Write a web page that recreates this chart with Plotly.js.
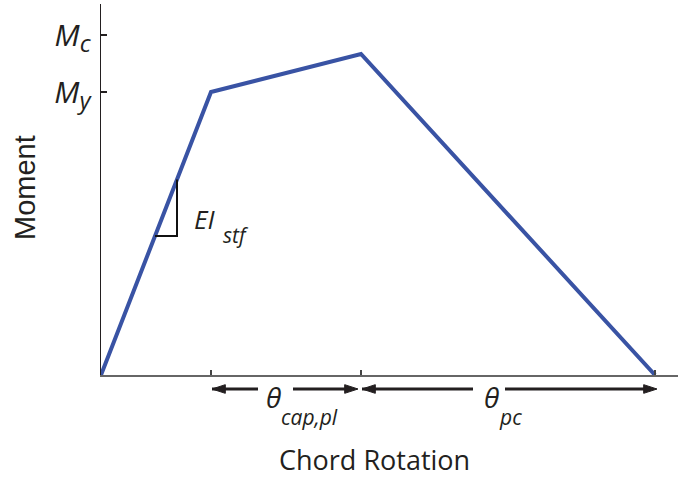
<!DOCTYPE html>
<html>
<head>
<meta charset="utf-8">
<script src="https://cdn.plot.ly/plotly-3.0.1.min.js"></script>
<style>html,body{margin:0;padding:0;background:#fff;}#chart{width:678px;height:477px;}</style>
</head>
<body>
<div id="chart"></div>
<script>
// Backbone curve (chord rotation vs moment)
const rotation = [0, 1.10, 2.60, 5.54];
const moment = [0, 2.83, 3.21, 0];
// Y tick marks and labels
const yTickVals = [2.83, 3.40];
const yTickText = ['<i>M<sub><span style="font-size:24px">y</span></sub></i>',
                   '<i>M<sub><span style="font-size:24px">c</span></sub></i>'];
// Stiffness triangle points along first segment
const triX = [0.54, 0.76];
// Dimension arrows below axis: [tail, tip] pairs in rotation units
const arrowPairs = [[1.57, 1.11], [1.92, 2.57], [3.72, 2.61], [4.04, 5.56]];

const FONT = 'Open Sans, Noto Sans, sans-serif';
const INK = '#231f20';
const slope = moment[1] / rotation[1];
const triYLow = triX[0] * slope;
const triYHigh = triX[1] * slope;

// plot area spans pixel rows 4..430 (height 426); main axis bottom at row 375
const PH = 426, PB = 430;
const py = p => (PB - p) / PH;
const px = p => (p - 101) / 577;
const mainBottom = py(375);

function label(x, y, text, size, xref, yref, extra) {
  return Object.assign({x: x, y: y, xref: xref, yref: yref, text: text, showarrow: false,
    font: {family: FONT, size: size, color: INK}, xanchor: 'center', yanchor: 'middle'}, extra || {});
}

const data = [{
  x: rotation, y: moment, type: 'scatter', mode: 'lines',
  line: {color: '#3953a4', width: 4}, hoverinfo: 'skip'
}, {
  x: [triX[0], triX[1], triX[1]], y: [triYLow, triYLow, triYHigh], type: 'scatter', mode: 'lines',
  line: {color: '#111', width: 2}, hoverinfo: 'skip'
}];
arrowPairs.forEach(function (p) {
  data.push({
    x: p, y: [0.5, 0.5], xaxis: 'x', yaxis: 'y2', type: 'scatter', mode: 'lines+markers',
    line: {color: INK, width: 2.8},
    marker: {symbol: ['circle', 'arrow'], size: [0, 14], angleref: 'previous', color: INK, opacity: 1,
             line: {width: 1, color: INK}},
    hoverinfo: 'skip', cliponaxis: false
  });
});

const layout = {
  width: 678, height: 477,
  margin: {l: 101, r: 0, t: 4, b: 477 - PB},
  paper_bgcolor: '#fff', plot_bgcolor: 'rgba(0,0,0,0)',
  showlegend: false,
  font: {family: FONT, color: INK},
  xaxis: {range: [0, 5.77], anchor: 'y', showline: true, linecolor: '#666', linewidth: 1.5, zeroline: false, showgrid: false,
    ticks: 'inside', tickvals: rotation.slice(1), ticklen: 5, tickcolor: '#444', tickwidth: 1.2, showticklabels: false},
  yaxis: {domain: [mainBottom, 1], range: [0, 3.71], showline: true, linecolor: INK, linewidth: 1.5, zeroline: false, showgrid: false,
    ticks: 'inside', tickvals: yTickVals, ticktext: yTickText, ticklen: 6, tickcolor: INK, tickwidth: 1.2,
    ticklabelstandoff: 3, tickfont: {family: FONT, size: 30, color: INK}},
  yaxis2: {domain: [py(401), py(377)], range: [0, 1], anchor: 'x', visible: false, fixedrange: true},
  annotations: [
    label(1.72, py(397), '<i>θ</i>', 28, 'x', 'paper'),
    label(2.085, py(417), '<i>cap,pl</i>', 21, 'x', 'paper'),
    label(3.90, py(397), '<i>θ</i>', 28, 'x', 'paper'),
    label(4.09, py(417), '<i>pc</i>', 21, 'x', 'paper'),
    label(1.035, 1.565, '<i>EI</i>', 26, 'x', 'y'),
    label(1.35, 1.40, '<i>stf</i>', 21, 'x', 'y'),
    label(px(374), py(460), 'Chord Rotation', 27, 'paper', 'paper'),
    label(px(25), py(188), 'Moment', 29, 'paper', 'paper', {textangle: -90, font: {family: 'Liberation Sans, Arial, sans-serif', size: 29, color: INK}})
  ]
};

Plotly.newPlot('chart', data, layout, {staticPlot: true, displayModeBar: false});
</script>
</body>
</html>
